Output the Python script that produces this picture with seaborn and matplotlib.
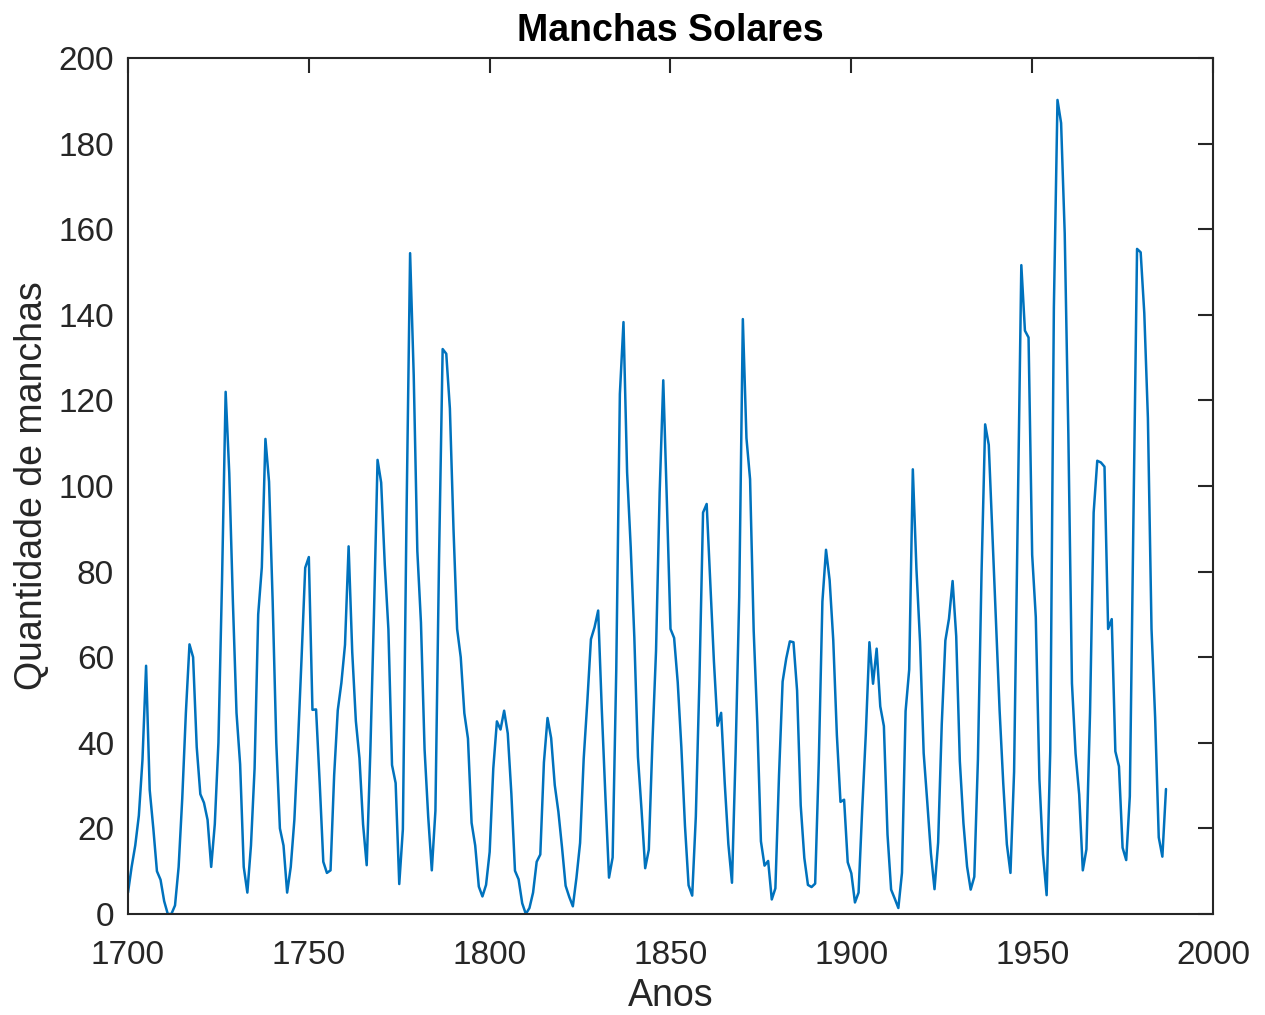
import numpy as np
import pandas as pd
import matplotlib
matplotlib.use("Agg")
import matplotlib.pyplot as plt
import seaborn as sns

# yearly sunspot numbers, 1700-1987
years = list(range(1700, 1988))
sunspots = [
    5, 11, 16, 23, 36, 58, 29, 20, 10, 8,
    3, 0, 0, 2, 11, 27, 47, 63, 60, 39,
    28, 26, 22, 11, 21, 40, 78, 122, 103, 73,
    47, 35, 11, 5, 16, 34, 70, 81, 111, 101,
    73, 40, 20, 16, 5, 11, 22, 40, 60, 80.9,
    83.4, 47.7, 47.8, 30.7, 12.2, 9.6, 10.2, 32.4, 47.6, 54,
    62.9, 85.9, 61.2, 45.1, 36.4, 20.9, 11.4, 37.8, 69.8, 106.1,
    100.8, 81.6, 66.5, 34.8, 30.6, 7, 19.8, 92.5, 154.4, 125.9,
    84.8, 68.1, 38.5, 22.8, 10.2, 24.1, 82.9, 132, 130.9, 118.1,
    89.9, 66.6, 60, 46.9, 41, 21.3, 16, 6.4, 4.1, 6.8,
    14.5, 34, 45, 43.1, 47.5, 42.2, 28.1, 10.1, 8.1, 2.5,
    0, 1.4, 5, 12.2, 13.9, 35.4, 45.8, 41.1, 30.1, 23.9,
    15.6, 6.6, 4, 1.8, 8.5, 16.6, 36.3, 49.6, 64.2, 67,
    70.9, 47.8, 27.5, 8.5, 13.2, 56.9, 121.5, 138.3, 103.2, 85.7,
    64.6, 36.7, 24.2, 10.7, 15, 40.1, 61.5, 98.5, 124.7, 96.3,
    66.6, 64.5, 54.1, 39, 20.6, 6.7, 4.3, 22.7, 54.8, 93.8,
    95.8, 77.2, 59.1, 44, 47, 30.5, 16.3, 7.3, 37.6, 74,
    139, 111.2, 101.6, 66.2, 44.7, 17, 11.3, 12.4, 3.4, 6,
    32.3, 54.3, 59.7, 63.7, 63.5, 52.2, 25.4, 13.1, 6.8, 6.3,
    7.1, 35.6, 73, 85.1, 78, 64, 41.8, 26.2, 26.7, 12.1,
    9.5, 2.7, 5, 24.4, 42, 63.5, 53.8, 62, 48.5, 43.9,
    18.6, 5.7, 3.6, 1.4, 9.6, 47.4, 57.1, 103.9, 80.6, 63.6,
    37.6, 26.1, 14.2, 5.8, 16.7, 44.3, 63.9, 69, 77.8, 64.9,
    35.7, 21.2, 11.1, 5.7, 8.7, 36.1, 79.7, 114.4, 109.6, 88.8,
    67.8, 47.5, 30.6, 16.3, 9.6, 33.2, 92.6, 151.6, 136.3, 134.7,
    83.9, 69.4, 31.5, 13.9, 4.4, 38, 141.7, 190.2, 184.8, 159,
    112.3, 53.9, 37.5, 27.9, 10.2, 15.1, 47, 93.8, 105.9, 105.5,
    104.5, 66.6, 68.9, 38, 34.5, 15.5, 12.6, 27.5, 92.5, 155.4,
    154.6, 140.4, 115.9, 66.6, 45.9, 17.9, 13.4, 29.2,
]

x_ticks = [1700, 1750, 1800, 1850, 1900, 1950, 2000]
y_ticks = list(range(0, 201, 20))

df = pd.DataFrame({"Anos": years, "Manchas": sunspots})

sns.set_theme(style="white")
plt.rcParams['font.family'] = ['Liberation Sans', 'DejaVu Sans']

dark = "#262626"
fig = plt.figure(figsize=(12.65, 10.15), dpi=100)
ax = fig.add_axes([128 / 1265, 1 - 914 / 1015, (1213 - 128) / 1265, (914 - 58) / 1015])

sns.lineplot(data=df, x="Anos", y="Manchas", ax=ax, color="#0072BD", linewidth=1.8)

ax.set_xlim(1700, 2000)
ax.set_ylim(0, 200)
ax.set_xticks(x_ticks)
ax.set_yticks(y_ticks)

for side in ["top", "right", "bottom", "left"]:
    ax.spines[side].set_visible(True)
    ax.spines[side].set_color(dark)
    ax.spines[side].set_linewidth(1.5)

ax.tick_params(direction="in", length=11, width=1.5, color=dark,
               top=True, right=True, labelsize=24, labelcolor=dark)
ax.tick_params(axis="x", pad=19)
ax.tick_params(axis="y", pad=10)

ax.set_xlabel("Anos", fontsize=27, color=dark, labelpad=5)
ax.set_ylabel("Quantidade de manchas", fontsize=27, color=dark, labelpad=6)
ax.set_title("Manchas Solares", fontsize=27, fontweight="bold", color="black", pad=12)

fig.savefig("out.png", dpi=100)
